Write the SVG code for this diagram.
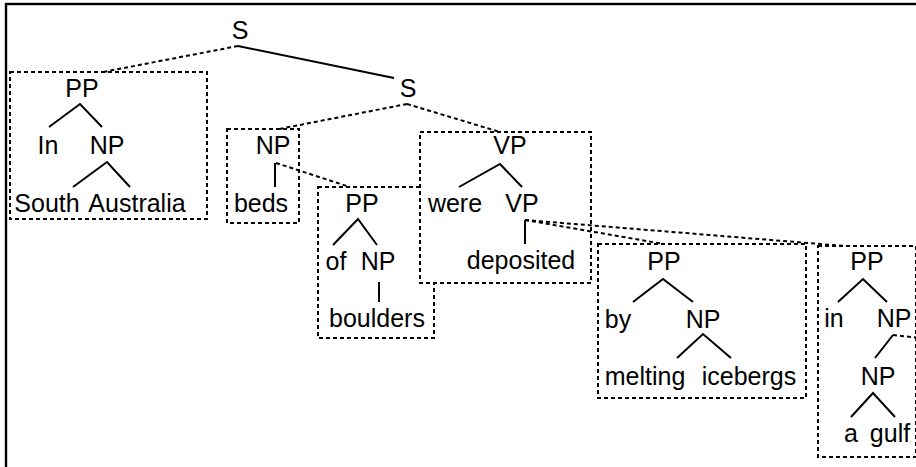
<svg xmlns="http://www.w3.org/2000/svg" width="916" height="467" viewBox="0 0 916 467">
  <style>
    text { font-family: "Liberation Sans", Arial, Helvetica, sans-serif; font-size: 25px; fill: #000; text-anchor: middle; }
    .box { fill: #fff; stroke: #000; stroke-width: 2; stroke-dasharray: 4 3; }
    .br { stroke: #000; stroke-width: 2; fill: none; }
    .dash { stroke: #000; stroke-width: 2; fill: none; stroke-dasharray: 4 3; }
    .frame { fill: none; stroke: #000; stroke-width: 2.4; }
  </style>

  <rect class="frame" x="6" y="4" width="960" height="520"/>

  <!-- root sentence -->
  <g id="s-root">
    <text x="240" y="39">S</text>
  </g>

  <!-- inner sentence -->
  <g id="s-inner">
    <text x="408" y="97">S</text>
  </g>

  <!-- PP: In South Australia -->
  <g id="pp-in-south-australia">
    <rect class="box" x="10" y="72" width="197" height="147"/>
    <text x="82" y="97">PP</text>
    <path class="br" d="M49,127 L80,104 L102,127"/>
    <text x="48" y="154">In</text>
    <text x="107" y="154">NP</text>
    <path class="br" d="M73,187 L107,162 L130,187"/>
    <text x="47" y="212">South</text>
    <text x="137" y="212">Australia</text>
  </g>

  <!-- NP: beds -->
  <g id="np-beds">
    <rect class="box" x="227" y="129" width="72" height="94"/>
    <text x="273" y="154">NP</text>
    <line class="br" x1="275" y1="163" x2="275" y2="187"/>
    <text x="261" y="212">beds</text>
  </g>

  <!-- PP: of boulders -->
  <g id="pp-of-boulders">
    <rect class="box" x="318" y="187" width="116" height="151"/>
    <text x="362" y="212">PP</text>
    <path class="br" d="M333,245 L358,219 L377,245"/>
    <text x="336" y="270">of</text>
    <text x="378" y="270">NP</text>
    <line class="br" x1="379" y1="282" x2="379" y2="302"/>
    <text x="377" y="327">boulders</text>
  </g>

  <!-- VP: were deposited -->
  <g id="vp-were-deposited">
    <rect class="box" x="420" y="132" width="171" height="151"/>
    <text x="510" y="154">VP</text>
    <path class="br" d="M459,187 L500,164 L522,187"/>
    <text x="455" y="212">were</text>
    <text x="522" y="212">VP</text>
    <line class="br" x1="525" y1="220" x2="525" y2="244"/>
    <text x="521" y="269">deposited</text>
  </g>

  <!-- PP: by melting icebergs -->
  <g id="pp-by-melting-icebergs">
    <rect class="box" x="598" y="244" width="208" height="154"/>
    <text x="664" y="270">PP</text>
    <path class="br" d="M633,302 L663,279 L693,302"/>
    <text x="618" y="328">by</text>
    <text x="703" y="328">NP</text>
    <path class="br" d="M677,358 L703,334 L731,358"/>
    <text x="645" y="385">melting</text>
    <text x="749" y="385">icebergs</text>
  </g>

  <!-- PP: in a gulf -->
  <g id="pp-in-a-gulf">
    <rect class="box" x="818" y="246" width="98" height="211"/>
    <text x="867" y="270">PP</text>
    <path class="br" d="M838,302 L863,279 L887,302"/>
    <text x="834" y="327">in</text>
    <text x="894" y="327">NP</text>
    <line class="br" x1="893" y1="335" x2="875" y2="358"/>
    <text x="878" y="385">NP</text>
    <path class="br" d="M851,417 L873,393 L895,417"/>
    <text x="851" y="442">a</text>
    <text x="890" y="442">gulf</text>
  </g>

  <!-- links between constituents -->
  <g id="connectors">
    <line class="dash" x1="238" y1="46" x2="103" y2="72"/>
    <line class="br" x1="238" y1="46" x2="394" y2="78"/>
    <line class="dash" x1="407" y1="104" x2="279" y2="129"/>
    <line class="dash" x1="407" y1="104" x2="500" y2="132"/>
    <line class="dash" x1="276" y1="163" x2="350" y2="187"/>
    <line class="dash" x1="525" y1="220" x2="664" y2="244"/>
    <line class="dash" x1="525" y1="220" x2="845" y2="246"/>
    <line class="dash" x1="893" y1="335" x2="930" y2="339"/>
  </g>
</svg>
